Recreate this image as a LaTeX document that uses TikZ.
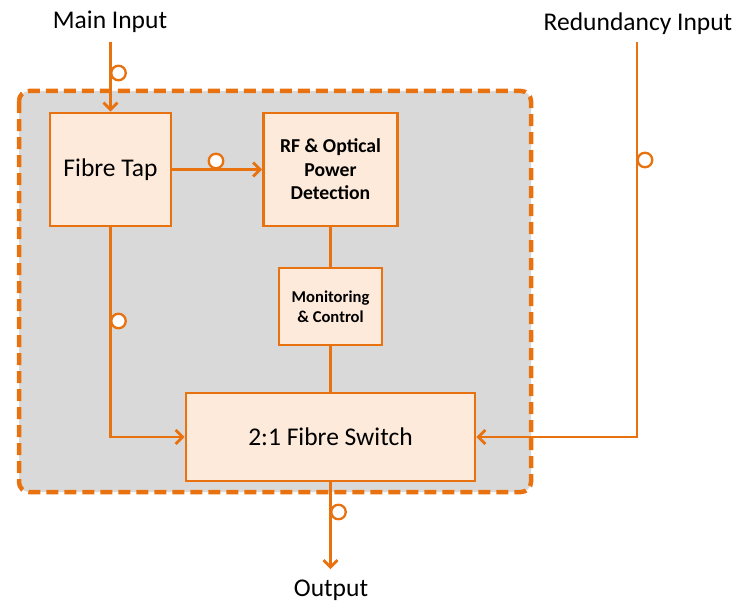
\documentclass[tikz,border=0pt]{standalone}
\usepackage{fontspec}
\setmainfont{Carlito}
\usetikzlibrary{arrows.meta}
\definecolor{org}{HTML}{E8720F}
\definecolor{boxfill}{HTML}{FDEADA}
\definecolor{bggray}{HTML}{D9D9D9}
\tikzset{
  blk/.style={draw=org, line width=2.8pt, fill=boxfill, inner sep=0pt, align=center},
  conn/.style={draw=org, line width=2.8pt},
  arr/.style={conn, -{Straight Barb[length=7pt,width=14pt,line width=2.8pt]}},
  ring/.style={circle, draw=org, line width=2.3pt, fill=white, minimum size=14.5pt, inner sep=0pt},
  lbl/.style={font=\fontsize{25.5}{27}\selectfont, inner sep=0pt},
}
\begin{document}
\begin{tikzpicture}[x=1pt,y=-1pt]
\useasboundingbox (0,0) rectangle (742,602);
% dashed enclosure
\draw[draw=org, fill=bggray, line width=4.5pt, dash pattern=on 12pt off 6pt, rounded corners=10pt] (19,91) rectangle (531,492);
% blocks
\node[blk, minimum width=121pt, minimum height=113pt, font=\fontsize{25.5}{27}\selectfont] (tap) at (110.5,169.5) {Fibre Tap};
\node[blk, minimum width=134pt, minimum height=113pt, font=\fontsize{19.7}{23.5}\selectfont\bfseries] (rf) at (330.5,169.5) {RF \& Optical\\Power\\Detection};
\node[blk, minimum width=103pt, minimum height=77pt, font=\fontsize{16.6}{20}\selectfont\bfseries] (mon) at (330.5,306.5) {Monitoring\\\& Control};
\node[blk, minimum width=289pt, minimum height=88pt, font=\fontsize{25.5}{27}\selectfont] (sw) at (330.5,437) {2:1 Fibre Switch};
% labels
\node[lbl] (tmain) at (110,22) {Main Input};
\node[lbl] (tred) at (638,24) {Redundancy Input};
\node[lbl] (tout) at (331,590) {Output};
\coordinate (mi) at (110.5,42);
\coordinate (ri) at (637,42);
\coordinate (mo) at (330.5,569);
% connectors
\draw[arr] (mi) -- (tap.north);
\draw[arr] (tap.east) -- (rf.west);
\draw[conn] (rf.south) -- (mon.north);
\draw[conn] (mon.south) -- (sw.north);
\draw[arr] (tap.south) |- (sw.west);
\draw[arr] (ri) |- (sw.east);
\draw[arr] (sw.south) -- (mo);
% ring markers
\node[ring] (c1) at (118.5,73) {};
\node[ring] (c2) at (216,161) {};
\node[ring] (c3) at (118.5,321) {};
\node[ring] (c4) at (645,160) {};
\node[ring] (c5) at (338.5,512) {};
\end{tikzpicture}
\end{document}
